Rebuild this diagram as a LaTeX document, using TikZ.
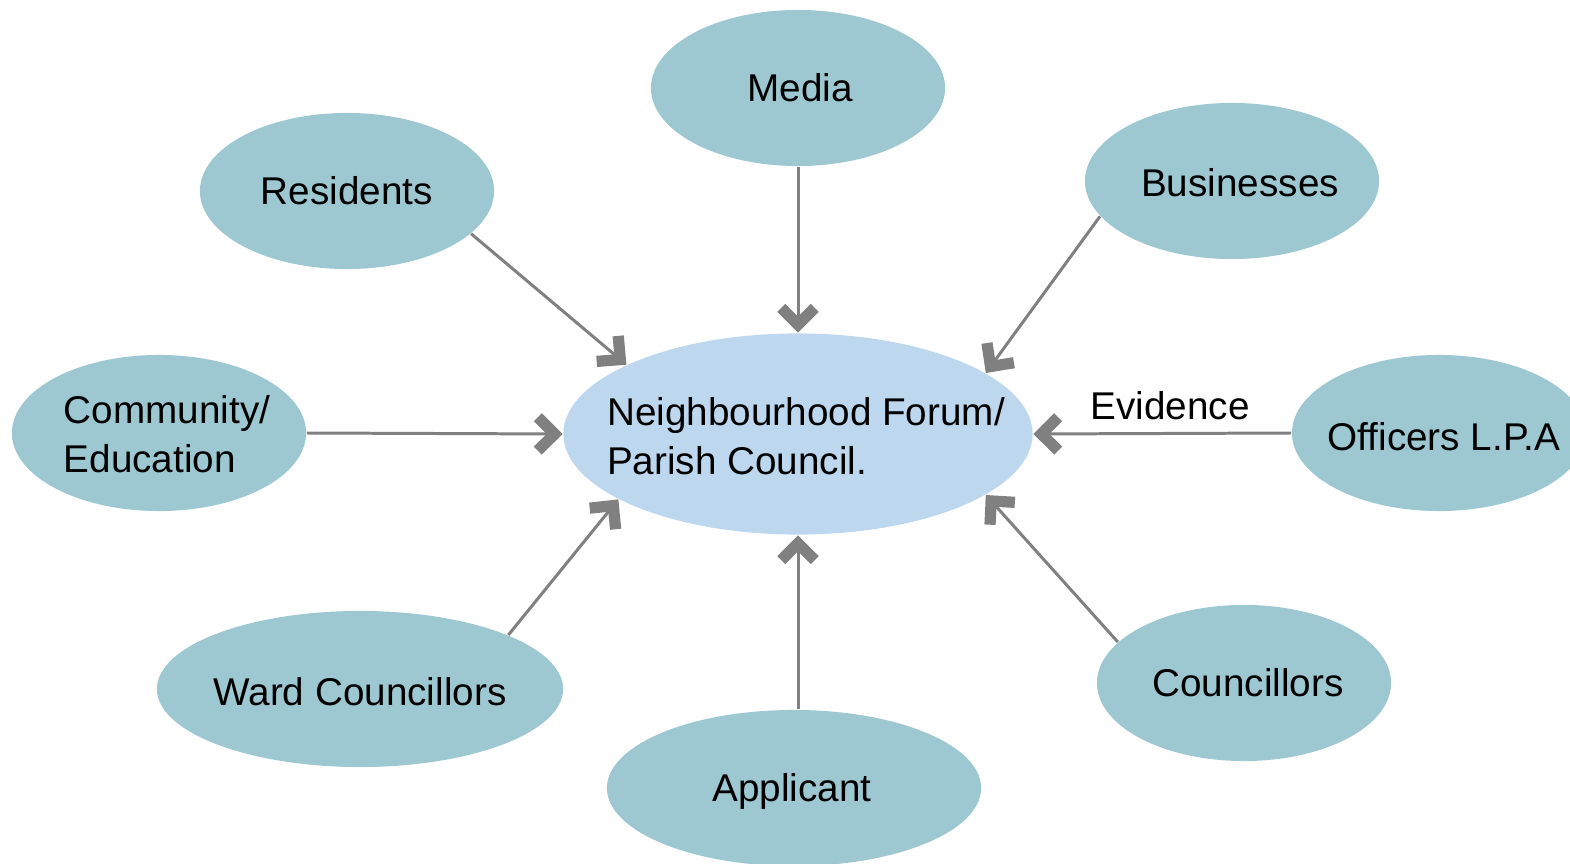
\documentclass[tikz,border=0pt]{standalone}
\usepackage{fontspec}
\setmainfont{Liberation Sans}
\usetikzlibrary{shapes.geometric,arrows.meta}
\definecolor{outerfill}{HTML}{9DC8D2}
\definecolor{innerfill}{HTML}{BDD7EE}
\definecolor{arrowgray}{HTML}{808080}
\tikzset{
  txt/.style={font=\fontsize{11}{14}\selectfont, align=left, inner sep=0pt},
  party/.style={ellipse, fill=outerfill, draw=none, inner sep=0pt,
    minimum width=2.94cm, minimum height=1.56cm},
  hub/.style={ellipse, fill=innerfill, draw=none, inner sep=0pt,
    minimum width=4.69cm, minimum height=2.01cm},
  feed/.style={draw=arrowgray, line width=0.85pt,
    -{Straight Barb[length=4.8pt, width=9.5pt, line width=3.2pt]}}
}
\begin{document}
\begin{tikzpicture}[x=0.01cm, y=-0.01cm]
\useasboundingbox (0,0) rectangle (1570,864);
\node[hub, label={[txt, xshift=0.08cm, yshift=-0.02cm]center:{Neighbourhood Forum/\\Parish Council.}}] (center) at (798,434) {};
\node[party, label={[txt, xshift=0.02cm]center:Media}] (media) at (798,88) {};
\node[party, label={[txt]center:Residents}] (res) at (347,191) {};
\node[party, label={[txt, xshift=0.08cm, yshift=-0.02cm]center:Businesses}] (bus) at (1232,181) {};
\node[party, label={[txt, xshift=0.08cm, yshift=-0.01cm]center:{Community/\\Education}}] (comm) at (159,433) {};
\node[party, label={[txt, xshift=0.05cm, yshift=-0.04cm]center:Officers L.P.A}] (off) at (1439,433) {};
\node[party, minimum width=4.06cm, label={[txt, yshift=-0.03cm]center:Ward Councillors}] (ward) at (360,689) {};
\node[party, minimum width=3.74cm, label={[txt, xshift=-0.02cm, yshift=-0.03cm]center:Applicant}] (app) at (794,788) {};
\node[party, label={[txt, xshift=0.04cm]center:Councillors}] (coun) at (1244,683) {};

\draw[feed] (media.south) -- (center.north);
\draw[feed] (res.-19) -- (center.158.7);
\draw[feed] (bus.195.3) -- (center.18.8);
\draw[feed] (comm.east) -- (center.west);
\draw[feed] (off.west) -- node[pos=0.47, above, txt, inner sep=3.5pt] (ev) {Evidence} (center.east);
\draw[feed] (ward.20.1) -- (center.200.5);
\draw[feed] (center.south |- app.north) -- (center.south);
\draw[feed] (coun.162) -- (center.-18.5);
\end{tikzpicture}
\end{document}
